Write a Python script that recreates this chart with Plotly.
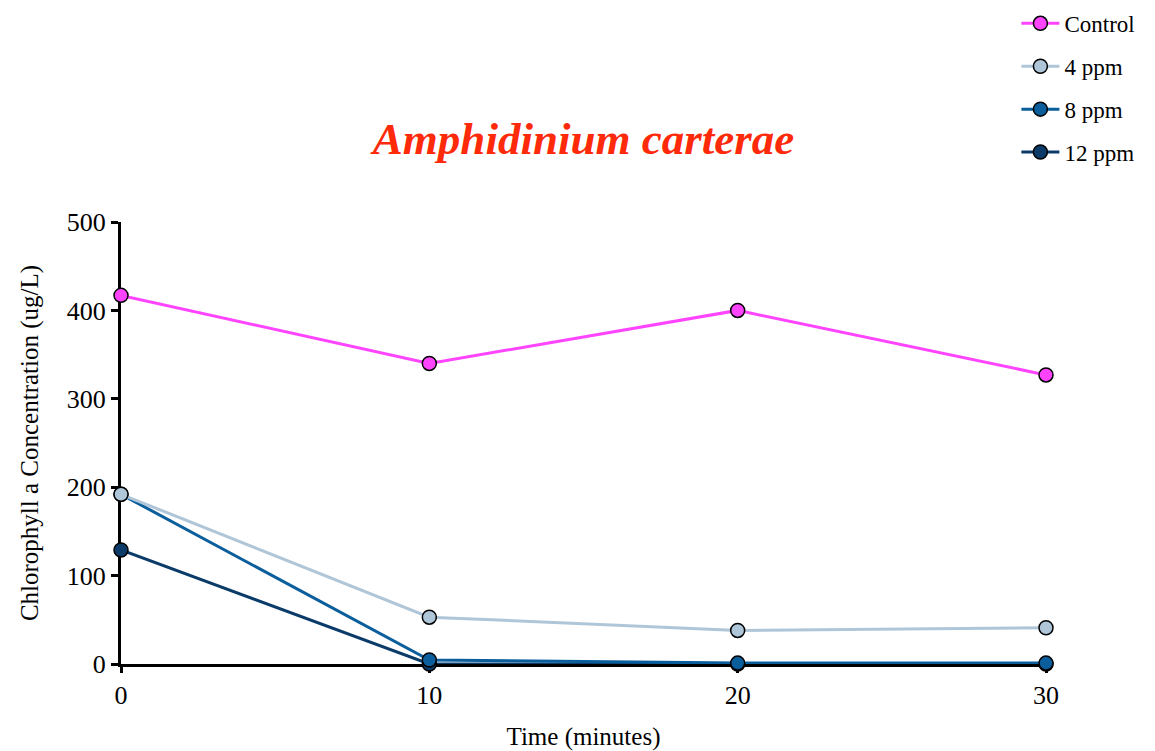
import plotly.graph_objects as go

# Time points (minutes)
time_min = [0, 10, 20, 30]

# Chlorophyll a concentration (ug/L) per treatment
control = [417, 340, 400, 327]
ppm4 = [192, 53, 38, 41]
ppm8 = [192, 4.5, 1, 1]
ppm12 = [129, 0, 0, 0]

series_names = ["Control", "4 ppm", "8 ppm", "12 ppm"]
series_values = [control, ppm4, ppm8, ppm12]
series_colors = ["#FF44FF", "#AFC6D9", "#0B5E9C", "#0B3B68"]

fig = go.Figure()

# Add in reverse so the first series is drawn on top; legendrank keeps legend order
for rank, (name, vals, col) in reversed(list(enumerate(zip(series_names, series_values, series_colors)))):
    fig.add_trace(go.Scatter(
        x=time_min, y=vals, name=name, mode="lines+markers",
        legendgroup=name, legendrank=rank + 1,
        line=dict(color=col, width=3),
        marker=dict(size=14, color=col, line=dict(color="black", width=1.5)),
        cliponaxis=False,
    ))

font_family = "Liberation Serif"

fig.update_layout(
    width=1155, height=751,
    paper_bgcolor="white", plot_bgcolor="white",
    margin=dict(l=121, r=109, t=222, b=87, autoexpand=False),
    font=dict(family=font_family, size=25, color="black"),
    title=dict(
        text="<b><i>Amphidinium carterae</i></b>",
        font=dict(family=font_family, size=45, color="#FF2A0A"),
        x=(121 + 1046) / 2 / 1155, xanchor="center",
        y=1 - 138 / 751, yanchor="middle",
    ),
    legend=dict(
        x=0.968, xanchor="left", y=1.498, yanchor="top",
        font=dict(family=font_family, size=23),
        itemwidth=38,
        traceorder="grouped", tracegroupgap=10,
        bgcolor="rgba(0,0,0,0)",
    ),
    showlegend=True,
)

fig.update_xaxes(
    range=[0, 30], tickvals=time_min, ticktext=[str(t) for t in time_min],
    showgrid=False, zeroline=False,
    showline=True, linecolor="black", linewidth=3,
    ticks="outside", ticklen=6, tickwidth=3, tickcolor="black",
    tickfont=dict(size=26),
    title=dict(text="Time (minutes)", font=dict(size=25), standoff=28),
    layer="below traces", automargin=False,
)
fig.update_yaxes(
    range=[0, 500], tickvals=[0, 100, 200, 300, 400, 500],
    showgrid=False, zeroline=False,
    showline=True, linecolor="black", linewidth=3,
    ticks="outside", ticklen=7, tickwidth=3, tickcolor="black",
    tickfont=dict(size=26),
    title=dict(text="Chlorophyll a Concentration (ug/L)", font=dict(size=25), standoff=22),
    layer="below traces", automargin=False,
)

fig.write_html("out.html")
